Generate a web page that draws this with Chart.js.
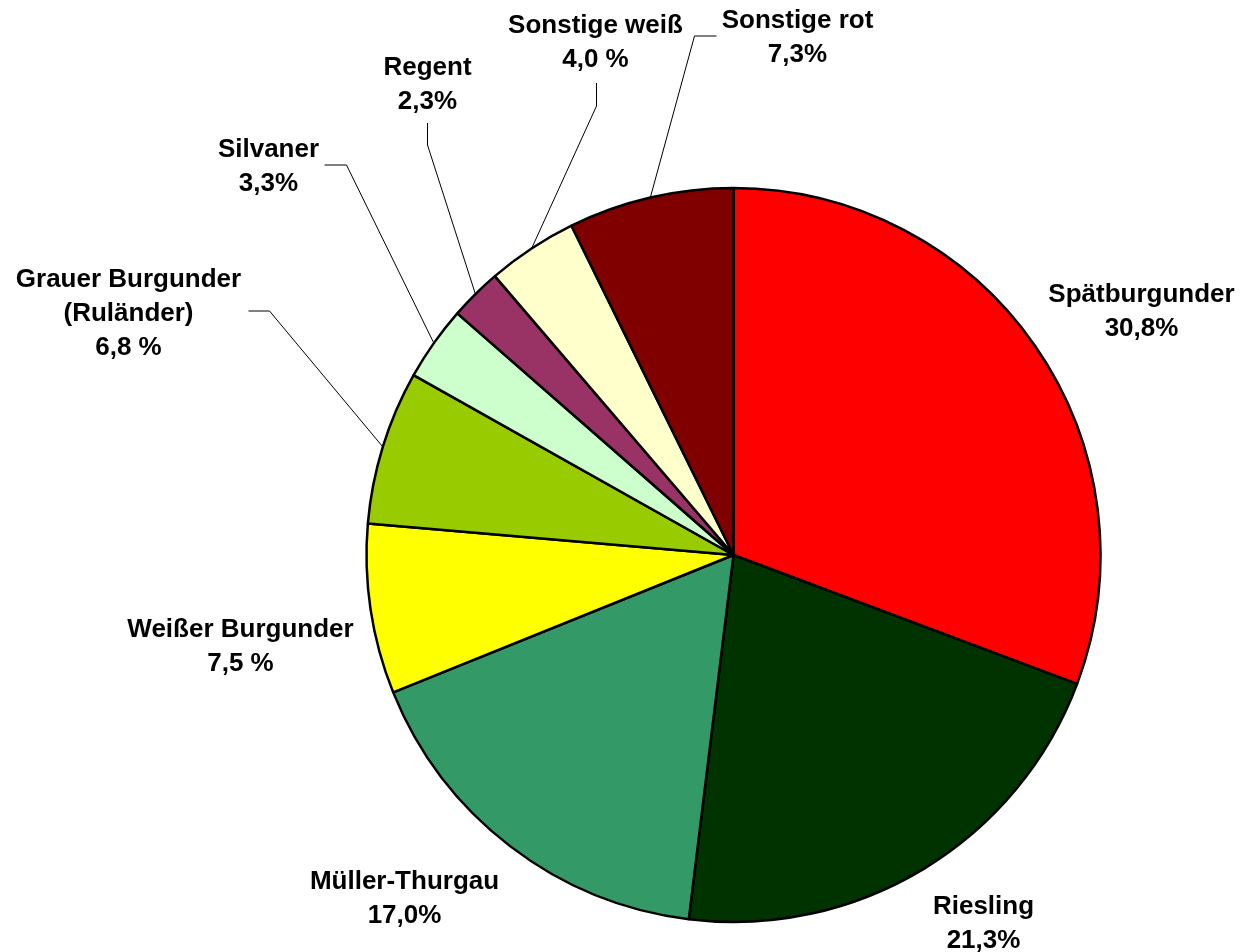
<!DOCTYPE html>
<html>
<head>
<meta charset="utf-8">
<script src="https://cdn.jsdelivr.net/npm/chart.js@4/dist/chart.umd.min.js"></script>
<style>
  html, body { margin: 0; padding: 0; background: #fff; }
  canvas { display: block; }
</style>
</head>
<body>
<canvas id="pieChart" width="1245" height="952"></canvas>
<script>
// Rebsorten, Anteile in %
const varieties = [
  ["Spätburgunder"],
  ["Riesling"],
  ["Müller-Thurgau"],
  ["Weißer Burgunder"],
  ["Grauer Burgunder", "(Ruländer)"],
  ["Silvaner"],
  ["Regent"],
  ["Sonstige weiß"],
  ["Sonstige rot"]
];
const shares = [30.8, 21.3, 17.0, 7.5, 6.8, 3.3, 2.3, 4.0, 7.3];
const shareLabels = ["30,8%", "21,3%", "17,0%", "7,5 %", "6,8 %", "3,3%", "2,3%", "4,0 %", "7,3%"];
const sliceColors = ["#FF0000", "#003300", "#339966", "#FFFF00", "#99CC00", "#CCFFCC", "#993366", "#FFFFCC", "#800000"];

// label placement relative to pie centre: [dx of text centre, dy of first baseline]
const labelOffsets = [
  [408, -253], [250, 359], [-329, 334], [-493, 82], [-605, -268],
  [-465, -398], [-306, -480], [-138, -522], [64, -527]
];
// leader lines: outer end and elbow, relative to pie centre (null = none)
const leaders = [
  null, null, null, null,
  [[-485, -244], [-464, -244]],
  [[-409, -390], [-387, -390]],
  [[-306, -432], [-306, -410]],
  [[-137, -472], [-137, -449]],
  [[-17, -519], [-39, -519]]
];

const lineGap = 34;

const sliceLabels = {
  id: "sliceLabels",
  afterDatasetsDraw(chart) {
    const c = chart.ctx;
    const arcs = chart.getDatasetMeta(0).data;
    c.save();
    arcs.forEach((arc, i) => {
      const { x, y, startAngle, endAngle, outerRadius } = arc.getProps(["x", "y", "startAngle", "endAngle", "outerRadius"], true);
      const leader = leaders[i];
      if (leader) {
        const mid = (startAngle + endAngle) / 2;
        c.beginPath();
        c.moveTo(x + leader[0][0], y + leader[0][1]);
        c.lineTo(x + leader[1][0], y + leader[1][1]);
        c.lineTo(x + Math.cos(mid) * outerRadius, y + Math.sin(mid) * outerRadius);
        c.strokeStyle = "#000";
        c.lineWidth = 1;
        c.stroke();
      }
      const lines = varieties[i].concat([shareLabels[i]]);
      c.fillStyle = "#000";
      c.font = "bold 26px 'Liberation Sans', Arial, sans-serif";
      c.textAlign = "center";
      c.textBaseline = "alphabetic";
      lines.forEach((t, k) => {
        c.fillText(t, x + labelOffsets[i][0], y + labelOffsets[i][1] + k * lineGap);
      });
    });
    c.restore();
  }
};

new Chart(document.getElementById("pieChart"), {
  type: "pie",
  data: {
    labels: varieties.map((v) => v.join(" ")),
    datasets: [
      {
        data: shares,
        backgroundColor: sliceColors,
        borderColor: "#000",
        borderWidth: 2.5
      }
    ]
  },
  options: {
    responsive: false,
    animation: false,
    radius: 367,
    layout: { padding: { left: 222, right: 0, top: 158, bottom: 0 } },
    plugins: {
      legend: { display: false },
      tooltip: { enabled: false }
    }
  },
  plugins: [sliceLabels]
});
</script>
</body>
</html>
